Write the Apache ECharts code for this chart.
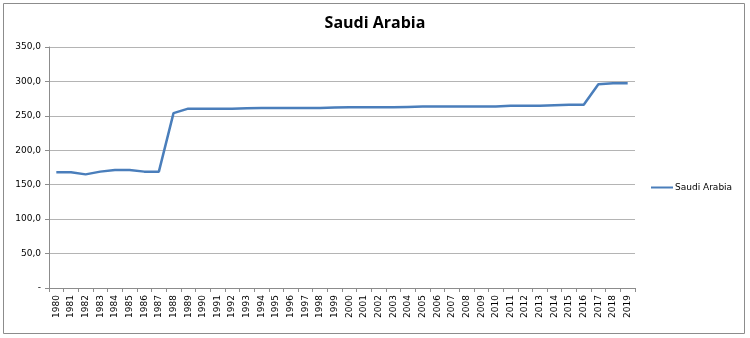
<!DOCTYPE html>
<html><head><meta charset="utf-8">
<script src="https://cdn.jsdelivr.net/npm/echarts@6/dist/echarts.min.js"></script>
<style>html,body{margin:0;padding:0;background:#fff}#c{width:750px;height:338px}</style>
</head><body><div id="c"></div>
<script>
const years = ['1980','1981','1982','1983','1984','1985','1986','1987','1988','1989','1990','1991','1992','1993','1994','1995','1996','1997','1998','1999','2000','2001','2002','2003','2004','2005','2006','2007','2008','2009','2010','2011','2012','2013','2014','2015','2016','2017','2018','2019'];
const saudiArabia = [168.0,168.0,165.0,169.0,171.5,171.5,169.0,169.0,254.0,260.5,260.5,260.5,260.5,261.0,261.5,261.5,261.5,261.5,261.5,262.0,262.5,262.5,262.5,262.5,263.0,263.5,263.5,263.5,263.5,263.5,263.5,264.5,264.5,264.5,265.5,266.0,266.0,296.0,297.5,297.5];
const seriesName = 'Saudi Arabia';
const chart = echarts.init(document.getElementById('c'), null, {renderer:'canvas'});
chart.setOption({
  animation:false,
  backgroundColor:'#fff',
  title:{text:seriesName,left:370,top:10,textAlign:'center',textStyle:{fontFamily:'Open Sans',fontWeight:'bold',fontSize:16,color:'#000'}},
  graphic:[{type:'rect',shape:{x:3.5,y:3.5,width:741,height:330},style:{fill:'none',stroke:'#8c8c8c',lineWidth:1},silent:true}],
  legend:{left:646,top:178,itemWidth:22,itemHeight:2,itemGap:4,icon:'rect',data:[seriesName],textStyle:{fontFamily:'DejaVu Sans',fontSize:9,color:'#000',padding:[0,0,0,-3]}},
  grid:{left:49,right:115,top:47,bottom:50},
  xAxis:{type:'category',data:years,boundaryGap:true,
    axisLine:{lineStyle:{color:'#8c8c8c'}},
    axisTick:{show:true,alignWithLabel:false,length:4,lineStyle:{color:'#8c8c8c'}},
    axisLabel:{rotate:90,interval:0,fontFamily:'DejaVu Sans',fontSize:9,color:'#000',margin:7}},
  yAxis:{type:'value',min:0,max:350,interval:50,
    axisLine:{show:true,lineStyle:{color:'#8c8c8c'}},
    axisTick:{show:true,length:4,lineStyle:{color:'#8c8c8c'}},
    splitLine:{lineStyle:{color:'#b4b4b4'}},
    axisLabel:{fontFamily:'DejaVu Sans',fontSize:9,color:'#000',margin:8,formatter:v=>v===0?'-':v.toFixed(1).replace('.',',')}},
  series:[{name:seriesName,type:'line',data:saudiArabia,symbol:'none',lineStyle:{color:'#4a7ebb',width:2.5},itemStyle:{color:'#4a7ebb'}}]
});
</script></body></html>
